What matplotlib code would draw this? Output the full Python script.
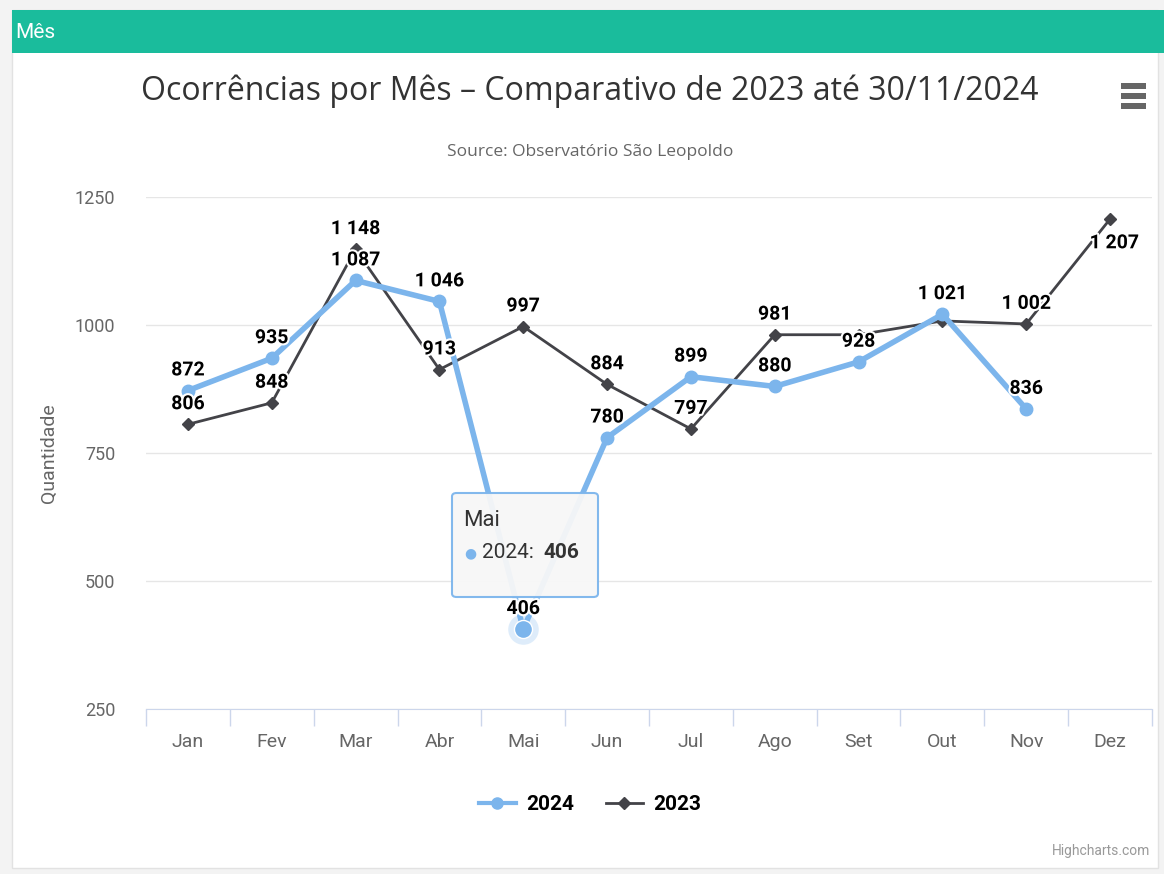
import matplotlib
matplotlib.use('Agg')
import matplotlib.pyplot as plt
import matplotlib.patheffects as pe
from matplotlib.patches import Rectangle, FancyBboxPatch
from matplotlib.lines import Line2D

meses = ['Jan', 'Fev', 'Mar', 'Abr', 'Mai', 'Jun', 'Jul', 'Ago', 'Set', 'Out', 'Nov', 'Dez']
valores_2024 = [872, 935, 1087, 1046, 406, 780, 899, 880, 928, 1021, 836]
valores_2023 = [806, 848, 1148, 913, 997, 884, 797, 981, 981, 1008, 1002, 1207]
# rótulos que o Highcharts escondeu por sobreposição
mostrar_2023 = [True, True, True, True, True, True, True, True, False, False, True, True]
yticks = [250, 500, 750, 1000, 1250]

AZUL = '#7cb5ec'
ESCURO = '#434348'
NARROW = 'Roboto'


def fmt(v):
    return f'{v:,}'.replace(',', ' ')


def run():
    W, H = 1164, 874
    fig = plt.figure(figsize=(W / 100, H / 100), dpi=100)
    fig.patch.set_facecolor('#f3f3f3')

    # cartão branco e barra de título
    fig.add_artist(Rectangle((12 / W, 6 / H), 1146 / W, 858 / H, transform=fig.transFigure,
                             facecolor='white', edgecolor='#e2e2e2', lw=1, zorder=-5))
    fig.add_artist(Rectangle((12 / W, 1 - 53 / H), 1 - 12 / W, 43 / H, transform=fig.transFigure,
                             facecolor='#1abc9c', edgecolor='none', zorder=-4))
    fig.text(15 / W, 1 - 32 / H, 'Mês', color='white', fontsize=15, family=NARROW,
             va='center', ha='left')

    fig.text(590 / W, 1 - 91 / H, 'Ocorrências por Mês – Comparativo de 2023 até 30/11/2024',
             ha='center', va='center', fontsize=23, color='#333333', family='Open Sans')
    fig.text(590 / W, 1 - 152 / H, 'Source: Observatório São Leopoldo',
             ha='center', va='center', fontsize=12.5, color='#666666', family='Open Sans')

    # menu (hamburger)
    for yy in (86, 96, 106):
        fig.add_artist(Rectangle((1121 / W, 1 - (yy + 3) / H), 25 / W, 6 / H,
                                 transform=fig.transFigure, facecolor='#666666', edgecolor='none'))

    ax = fig.add_axes([146 / W, 165 / H, 1006 / W, 512 / H])
    ax.set_facecolor('none')
    x = list(range(len(meses)))
    x24 = x[:len(valores_2024)]

    ax.plot(x, valores_2023, color=ESCURO, lw=2, marker='D', ms=6, zorder=3)
    ax.plot(x24, valores_2024, color=AZUL, lw=4, marker='o', ms=9, zorder=4)

    # ponto em destaque (hover)
    ax.plot([4], [valores_2024[4]], 'o', color=AZUL, ms=22, alpha=0.25, zorder=4, mec='none')
    ax.plot([4], [valores_2024[4]], 'o', color=AZUL, ms=13, zorder=5, mec='white', mew=1)

    efeito = [pe.withStroke(linewidth=3, foreground='white')]
    estilo = dict(fontsize=14, fontweight='bold', color='black', family=NARROW,
                  textcoords='offset points', ha='center', path_effects=efeito, zorder=6)
    for i, v in zip(x24, valores_2024):
        ax.annotate(fmt(v), (i, v), xytext=(0, 8), va='bottom', **estilo)
    for i, v in enumerate(valores_2023):
        if not mostrar_2023[i]:
            continue
        if i == len(valores_2023) - 1:
            ax.annotate(fmt(v), (i, v), xytext=(3, -11), va='top', **estilo)
        else:
            ax.annotate(fmt(v), (i, v), xytext=(0, 8), va='bottom', **estilo)

    ax.set_xlim(-0.5, len(meses) - 0.5)
    ax.set_ylim(yticks[0], yticks[-1])
    ax.set_yticks(yticks)
    ax.set_yticklabels([str(t) for t in yticks], family=NARROW, fontsize=13, color='#666666')
    ax.set_xticks(x)
    ax.set_xticklabels(meses, family=NARROW, fontsize=14, color='#666666')
    ax.tick_params(axis='x', length=0, pad=17)
    ax.tick_params(axis='y', length=0, pad=22)
    ax.set_xticks([i - 0.5 for i in range(len(meses) + 1)], minor=True)
    ax.tick_params(axis='x', which='minor', length=12, color='#ccd6eb', width=1)
    ax.grid(axis='y', color='#e6e6e6', lw=1)
    ax.set_axisbelow(True)
    for s in ('top', 'right', 'left'):
        ax.spines[s].set_visible(False)
    ax.spines['bottom'].set_color('#ccd6eb')
    ax.set_ylabel('Quantidade', family=NARROW, fontsize=14, color='#666666', labelpad=12)

    # tooltip
    tip = FancyBboxPatch((452 / W, 1 - 597 / H), 146 / W, 104 / H, boxstyle='round,pad=0,rounding_size=0.004',
                         transform=fig.transFigure, facecolor='#f7f7f7', edgecolor=AZUL, lw=1.5,
                         alpha=0.95, zorder=10)
    fig.add_artist(tip)
    fig.text(463 / W, 1 - 520 / H, 'Mai', fontsize=16, color='#333333', family=NARROW, va='center', zorder=11)
    fig.text(470 / W, 1 - 553 / H, '●', fontsize=10, color=AZUL, va='center', ha='center', zorder=11)
    fig.text(482 / W, 1 - 553 / H, '2024:', fontsize=15, color='#333333', family=NARROW, va='center', zorder=11)
    fig.text(543 / W, 1 - 553 / H, '406', fontsize=15, color='#333333', family=NARROW, fontweight='bold',
             va='center', zorder=11)

    # legenda
    h24 = Line2D([], [], color=AZUL, lw=3, marker='o', ms=8)
    h23 = Line2D([], [], color=ESCURO, lw=2, marker='D', ms=6)
    fig.legend([h24, h23], ['2024', '2023'], loc='center', bbox_to_anchor=(590 / W, 1 - 805 / H),
               ncol=2, frameon=False, handlelength=1.8, columnspacing=1.5, handletextpad=0.5,
               prop={'family': NARROW, 'size': 15, 'weight': 'bold'})

    fig.text(1150 / W, 1 - 851 / H, 'Highcharts.com', ha='right', va='center', fontsize=10,
             color='#999999', family=NARROW)

    fig.savefig('out.png', dpi=100)
    plt.close(fig)


if __name__ == '__main__':
    run()
